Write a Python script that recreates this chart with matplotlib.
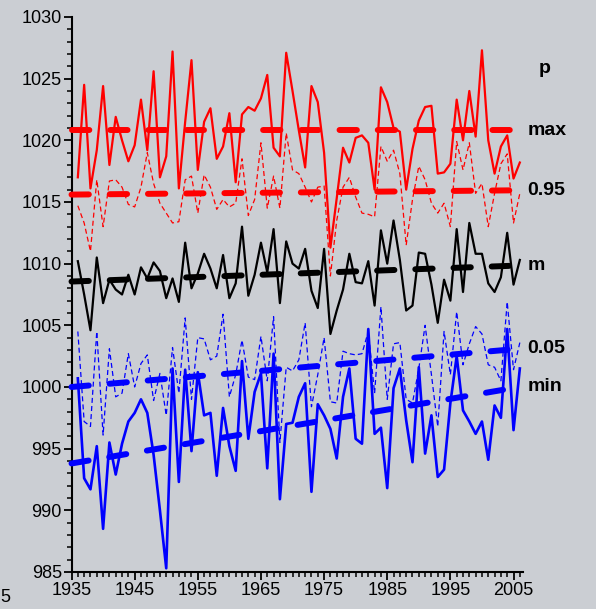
import matplotlib
matplotlib.use("Agg")
import matplotlib.pyplot as plt
from matplotlib.ticker import MultipleLocator
import matplotlib.transforms as mtransforms

plt.rcParams['font.family'] = ['Liberation Sans', 'DejaVu Sans']

# Jahre und Luftdruck-Werte (hPa)
years = list(range(1936, 2007))

p_max = [1017.0, 1024.5, 1016.1, 1019.2, 1024.4, 1018.0, 1021.9, 1020.0, 1018.3, 1019.6,
         1023.3, 1019.2, 1025.6, 1017.0, 1018.7, 1027.2, 1016.1, 1021.5, 1026.5, 1017.6,
         1021.5, 1022.6, 1018.5, 1019.5, 1022.2, 1016.6, 1022.1, 1022.7, 1022.4, 1023.4,
         1025.3, 1019.4, 1018.7, 1027.1, 1024.0, 1020.8, 1017.8, 1024.4, 1023.1, 1019.0,
         1011.3, 1015.3, 1019.4, 1018.2, 1020.2, 1020.4, 1019.8, 1016.0, 1024.3, 1023.1,
         1021.0, 1020.7, 1016.0, 1019.3, 1021.6, 1022.7, 1022.8, 1017.3, 1017.4, 1018.1,
         1023.3, 1020.0, 1024.0, 1020.3, 1027.3, 1020.0, 1017.3, 1019.5, 1020.4, 1016.9,
         1018.2]

p_q95 = [1014.7, 1013.3, 1011.0, 1016.8, 1013.0, 1016.7, 1016.8, 1016.2, 1014.8, 1014.6,
         1016.2, 1019.0, 1016.5, 1014.9, 1014.1, 1013.3, 1013.4, 1016.8, 1017.1, 1014.1,
         1017.2, 1016.2, 1014.4, 1015.2, 1014.6, 1014.9, 1018.5, 1013.9, 1015.2, 1019.8,
         1014.5, 1017.1, 1014.5, 1020.6, 1017.6, 1017.3, 1016.2, 1015.0, 1016.2, 1016.3,
         1009.0, 1013.5, 1016.2, 1017.0, 1015.4, 1014.1, 1014.0, 1013.8, 1019.5, 1018.3,
         1019.2, 1017.3, 1011.5, 1015.2, 1017.9, 1016.8, 1014.9, 1014.1, 1014.9, 1013.0,
         1019.9, 1017.6, 1019.8, 1015.7, 1016.5, 1013.0, 1015.7, 1018.1, 1018.9, 1013.3,
         1015.7]

p_mean = [1010.2, 1007.5, 1004.6, 1010.5, 1006.8, 1008.7, 1007.9, 1007.5, 1009.1, 1007.5,
          1009.7, 1008.8, 1010.1, 1009.4, 1007.2, 1008.8, 1006.9, 1011.7, 1008.0, 1009.2,
          1010.8, 1009.6, 1008.0, 1010.7, 1007.2, 1008.4, 1013.0, 1007.4, 1009.1, 1011.7,
          1009.3, 1012.8, 1006.8, 1011.8, 1010.0, 1009.6, 1011.2, 1007.8, 1006.4, 1011.2,
          1004.3, 1006.2, 1007.9, 1010.8, 1008.5, 1008.4, 1010.2, 1006.6, 1012.7, 1010.0,
          1013.5, 1010.3, 1006.2, 1006.6, 1010.9, 1010.8, 1008.3, 1005.2, 1008.7, 1007.0,
          1012.8, 1007.7, 1013.3, 1010.8, 1010.8, 1008.4, 1007.7, 1008.9, 1012.5, 1008.3,
          1010.3]

p_q05 = [1004.5, 997.2, 996.8, 1004.5, 996.1, 1003.1, 999.2, 999.5, 1002.7, 1000.0,
         1001.9, 1002.6, 998.9, 1001.1, 997.7, 1003.2, 999.5, 1005.6, 999.0, 1004.0,
         1003.9, 1002.2, 1002.5, 1005.9, 999.2, 1001.0, 1003.8, 1000.8, 1000.6, 1004.1,
         1000.5, 1005.7, 995.5, 1001.6, 1001.3, 1002.2, 1005.2, 998.4, 1001.0, 1004.0,
         998.8, 998.7, 1002.9, 1002.7, 1002.6, 1002.7, 1004.5, 999.5, 1006.5, 999.0,
         1003.5, 1003.6, 999.0, 998.7, 1001.5, 1005.0, 1001.0, 996.8, 1004.5, 1001.0,
         1006.1, 1001.8, 1003.5, 1004.9, 1004.3, 1001.8, 1001.6, 1000.5, 1006.9, 1001.4,
         1003.6]

p_min = [1000.7, 992.6, 991.7, 995.2, 988.5, 995.5, 992.9, 995.4, 997.2, 997.9,
         999.0, 997.9, 994.5, 990.0, 985.3, 1001.5, 992.3, 1001.4, 994.8, 1001.2,
         997.7, 997.9, 992.8, 998.3, 995.2, 993.2, 1002.1, 995.8, 999.6, 1001.1,
         993.4, 1002.7, 990.9, 997.0, 997.1, 999.2, 1000.3, 991.5, 998.6, 997.7,
         996.6, 994.2, 999.2, 1001.5, 995.8, 995.4, 1004.7, 996.2, 996.7, 991.8,
         999.9, 1001.5, 997.3, 993.9, 1001.6, 994.6, 997.7, 992.7, 993.3, 998.7,
         1002.5, 998.1, 997.2, 996.2, 997.2, 994.1, 998.5, 997.5, 1004.7, 996.5,
         1001.5]

# Trendlinien (Anfang / Ende)
trend_years = [1935, 2006]
trend_max = [1020.8, 1020.8]
trend_q95 = [1015.6, 1015.95]
trend_mean = [1008.55, 1009.85]
trend_q05 = [1000.0, 1003.1]
trend_min = [993.8, 1000.0]

series_labels = ['max', '0.95', 'm', '0.05', 'min']

bg = '#cbced3'
fig = plt.figure(figsize=(5.96, 6.09), dpi=100, facecolor=bg)
ax = fig.add_axes([0.12, 0.0608, 0.7575, 0.9113], facecolor=bg)

# Messwerte
ax.plot(years, p_q95, color='red', lw=0.9, dashes=(4, 2.5))
ax.plot(years, p_max, color='red', lw=1.6)
ax.plot(years, p_mean, color='black', lw=1.6)
ax.plot(years, p_q05, color='blue', lw=0.9, dashes=(4, 2.5))
ax.plot(years, p_min, color='blue', lw=1.9)

# Trends
trends = [(trend_max, 'red'), (trend_q95, 'red'), (trend_mean, 'black'),
          (trend_q05, 'blue'), (trend_min, 'blue')]
for vals, col in trends:
    ax.plot(trend_years, vals, color=col, lw=4.3, dashes=(2.9, 3.5),
            dash_capstyle='round', clip_on=False, zorder=5)

# Beschriftung rechts
trans = mtransforms.blended_transform_factory(ax.transAxes, ax.transData)
ax.text(1.035, 1025.8, 'p', transform=trans, fontsize=14, fontweight='bold', va='center')
ends = [trend_max[1], trend_q95[1], trend_mean[1], trend_q05[1], trend_min[1]]
for lab, v in zip(series_labels, ends):
    ax.text(1.01, v, lab, transform=trans, fontsize=14, fontweight='bold', va='center')

# Achsen
ax.set_xlim(1935, 2006.5)
ax.set_ylim(985, 1030)
ax.set_xticks(range(1935, 2006, 10))
ax.xaxis.set_minor_locator(MultipleLocator(1))
ax.yaxis.set_major_locator(MultipleLocator(5))
ax.yaxis.set_minor_locator(MultipleLocator(1))
ax.tick_params(which='major', direction='out', length=6, width=1.3, labelsize=13, pad=1)
ax.tick_params(which='minor', direction='out', length=3.5, width=1.1)
for s in ['top', 'right']:
    ax.spines[s].set_visible(False)
for s in ['left', 'bottom']:
    ax.spines[s].set_linewidth(1.5)

fig.text(0.0, 0.012, '5', fontsize=13)

fig.savefig('out.png', dpi=100, facecolor=bg)
